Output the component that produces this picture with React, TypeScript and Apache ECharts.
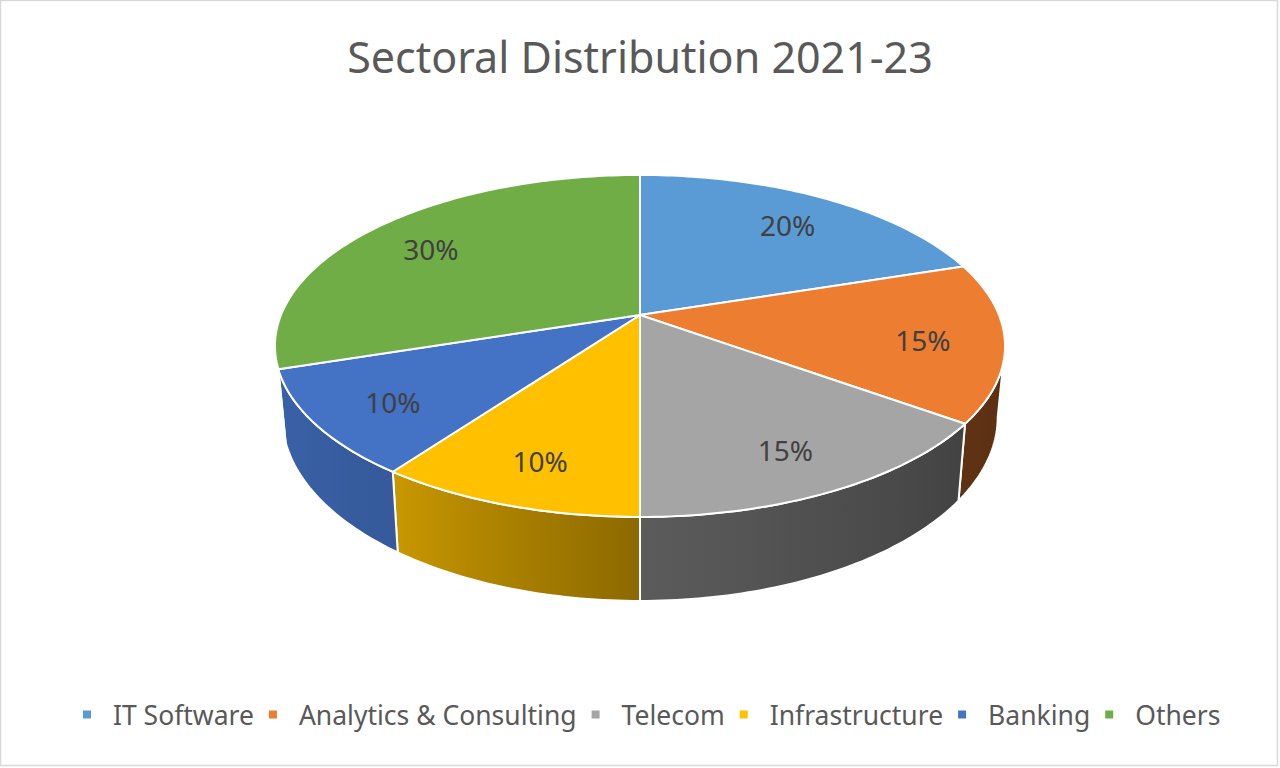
import React, { useEffect, useRef } from "react";
import * as echarts from "echarts";

const SECTORS = ["IT Software", "Analytics & Consulting", "Telecom", "Infrastructure", "Banking", "Others"];
const SHARES = [20, 15, 15, 10, 10, 30];

const COLORS = ["#5B9BD5", "#ED7D31", "#A5A5A5", "#FFC000", "#4472C4", "#70AD47"];
const FONT = "'Noto Sans', sans-serif";

// tilted disc with a bit of perspective, fitted to the Excel 3-D pie
const CX = 640;
const CY = 315;
const RX = 359;
const RY = 165.4;
const PERSP = 0.181;
const DEPTH = 68.8;
const BASE_SHRINK = 0.98;
const LABEL_R = 0.78;
// angle (clockwise from 12 o'clock) where the rim turns away from the viewer
const SIL = 90 + (Math.asin(PERSP) * 180) / Math.PI;
// brightness of the rim by angle
const SHADE = [
  [100, 0.37],
  [126, 0.4],
  [180, 0.55],
  [216, 0.79],
  [260, 0.88],
];

const TOTAL = SHARES.reduce((a, b) => a + b, 0);
const STARTS = SHARES.map((_, i) => SHARES.slice(0, i).reduce((a, b) => a + b, 0));

const rad = (d: number) => (d * Math.PI) / 180;

function project(deg: number, k = 1, base = false): number[] {
  const X = k * Math.sin(rad(deg));
  const Z = -k * Math.cos(rad(deg));
  const s = 1 / (1 - PERSP * Z);
  const x = CX + RX * X * s * (base ? BASE_SHRINK : 1);
  const y = CY + RY * Z * s + (base ? DEPTH * s : 0);
  return [x, y];
}

function arc(from: number, to: number, base: boolean): number[][] {
  const n = Math.max(2, Math.ceil(to - from));
  const pts: number[][] = [];
  for (let j = 0; j <= n; j++) pts.push(project(from + ((to - from) * j) / n, 1, base));
  return pts;
}

function shadeAt(deg: number): number {
  if (deg <= SHADE[0][0]) return SHADE[0][1];
  for (let j = 1; j < SHADE.length; j++) {
    if (deg <= SHADE[j][0]) {
      const [d0, f0] = SHADE[j - 1];
      const [d1, f1] = SHADE[j];
      return f0 + ((f1 - f0) * (deg - d0)) / (d1 - d0);
    }
  }
  return SHADE[SHADE.length - 1][1];
}

function darken(hex: string, f: number): string {
  const n = parseInt(hex.slice(1), 16);
  const r = Math.round(((n >> 16) & 255) * f);
  const g = Math.round(((n >> 8) & 255) * f);
  const b = Math.round((n & 255) * f);
  return `rgb(${r},${g},${b})`;
}

const renderSlice = (i: number) => (_params: any, api: any) => {
  const value = api.value(0);
  const a0 = (STARTS[i] / TOTAL) * 360;
  const a1 = ((STARTS[i] + value) / TOTAL) * 360;
  const children: any[] = [];

  // front rim
  const w0 = Math.max(a0, SIL);
  const w1 = Math.min(a1, 360 - SIL);
  if (w1 > w0) {
    const pts = arc(w0, w1, false).concat(arc(w0, w1, true).reverse());
    const xs = pts.map((p) => p[0]);
    const minX = Math.min(...xs);
    const span = Math.max(...xs) - minX || 1;
    const stops: any[] = [];
    for (let j = 0; j <= 8; j++) {
      const d = w0 + ((w1 - w0) * j) / 8;
      const off = (project(d)[0] - minX) / span;
      stops.push({ offset: Math.min(1, Math.max(0, off)), color: darken(COLORS[i], shadeAt(d)) });
    }
    stops.sort((p, q) => p.offset - q.offset);
    children.push({
      type: "polygon",
      shape: { points: pts },
      style: {
        fill: new echarts.graphic.LinearGradient(0, 0, 1, 0, stops),
        stroke: "#ffffff",
        lineWidth: 2,
        lineJoin: "round",
      },
    });
  }

  // top face
  children.push({
    type: "polygon",
    shape: { points: [[CX, CY], ...arc(a0, a1, false)] },
    style: { fill: COLORS[i], stroke: "#ffffff", lineWidth: 2, lineJoin: "round" },
  });

  const [lx, ly] = project((a0 + a1) / 2, LABEL_R);
  children.push({
    type: "text",
    x: lx,
    y: ly + 4,
    style: {
      text: Math.round((value / TOTAL) * 100) + "%",
      align: "center",
      verticalAlign: "middle",
      fontSize: 28,
      fontFamily: FONT,
      fill: "#404040",
    },
  });

  return { type: "group", children };
};

const App: React.FC = () => {
  const chartRef = useRef<HTMLDivElement>(null);

  useEffect(() => {
    if (!chartRef.current) return;
    const chart = echarts.init(chartRef.current, undefined, { renderer: "svg" });
    chart.setOption({
      animation: false,
      backgroundColor: "#ffffff",
      title: {
        text: "Sectoral Distribution 2021-23",
        left: "center",
        top: 35,
        padding: 0,
        textStyle: { fontSize: 43, fontWeight: "normal", color: "#595959", fontFamily: FONT },
      },
      legend: {
        data: SECTORS,
        left: 78,
        top: 696,
        icon: "rect",
        itemWidth: 8,
        itemHeight: 8,
        itemGap: 15,
        selectedMode: false,
        textStyle: { fontSize: 26.5, color: "#595959", fontFamily: FONT, padding: [0, 0, 0, 17] },
      },
      graphic: [
        {
          type: "rect",
          shape: { x: 0.5, y: 0.5, width: 1277, height: 765 },
          style: { fill: "none", stroke: "#d9d9d9", lineWidth: 1.5 },
          silent: true,
          z: 100,
        },
      ],
      series: SECTORS.map((name, i) => ({
        type: "custom",
        name,
        coordinateSystem: "none",
        silent: true,
        itemStyle: { color: COLORS[i] },
        renderItem: renderSlice(i),
        data: [[SHARES[i]]],
      })),
    });
    return () => {
      chart.dispose();
    };
  }, []);

  return (
    <div
      ref={chartRef}
      style={{ position: "absolute", left: 0, top: 0, width: "1280px", height: "768px" }}
    />
  );
};

export default App;
